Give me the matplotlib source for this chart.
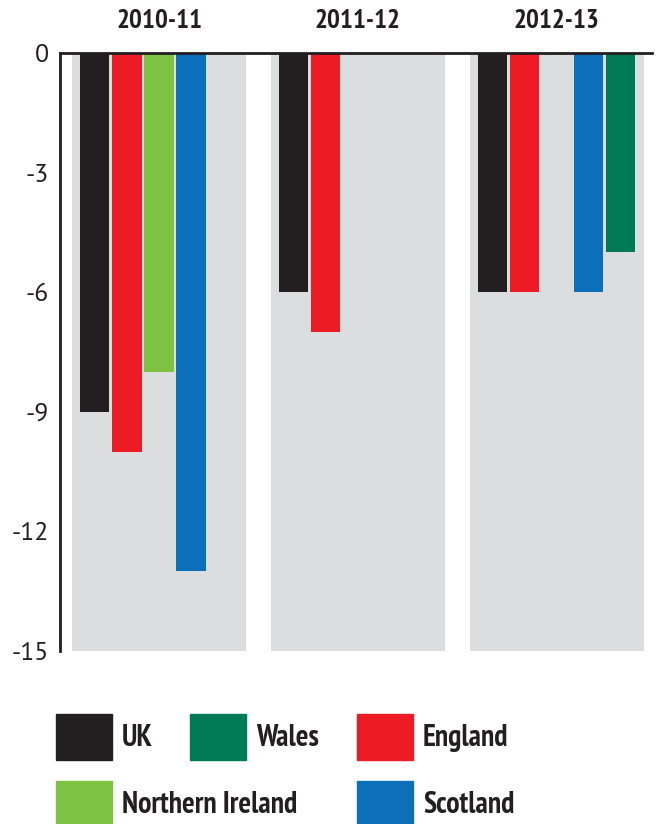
import matplotlib
matplotlib.use('Agg')
import matplotlib.pyplot as plt
from matplotlib.patches import Rectangle
import numpy as np

# ---- data ----
periods = ['2010-11', '2011-12', '2012-13']
series = ['UK', 'England', 'Northern Ireland', 'Scotland', 'Wales']
uk = [-9, -6, -6]
england = [-10, -7, -6]
northern_ireland = [-8, 0, 0]
scotland = [-13, 0, -6]
wales = [0, 0, -5]
y_ticks = [0, -3, -6, -9, -12, -15]

values = [uk, england, northern_ireland, scotland, wales]
colors = ['#231f20', '#ed1c24', '#7dc242', '#0b6fba', '#007a53']
panel_color = '#dcdddf'
dark = '#231f20'

W, H = 661, 824
fig = plt.figure(figsize=(W / 100, H / 100), dpi=100)
ax = fig.add_axes([60 / W, 1 - 651 / H, 592 / W, 598 / H])

bold = ['PT Sans Narrow', 'DejaVu Sans']
reg = ['PT Sans', 'DejaVu Sans']

x = np.arange(len(periods))
slot = 0.161
barw = 0.146
panel_w = 0.875

# grey panels
for xi in x:
    ax.bar(xi, -15, width=panel_w, bottom=0, color=panel_color, zorder=1)

for i, (vals, c) in enumerate(zip(values, colors)):
    offs = (i - 2) * slot
    ax.bar(x + offs, vals, width=barw, color=c, zorder=2)

ax.set_xlim(-0.498, 2.48)
ax.set_ylim(-15, 0)
ax.set_yticks(y_ticks)
ax.set_yticklabels([str(t) for t in y_ticks], family=reg, fontsize=18.5, color=dark)
ax.tick_params(axis='y', length=0, pad=8)
ax.set_xticks([])
for s in ['top', 'right', 'bottom']:
    ax.spines[s].set_visible(False)
ax.spines['left'].set_linewidth(2)
ax.spines['left'].set_color(dark)
ax.axhline(0, color=dark, lw=2, zorder=3, clip_on=False)

# period titles
for xi, p in zip(x, periods):
    ax.text(xi, 1.0 + 32 / 598, p, transform=ax.get_xaxis_transform(),
            ha='center', va='center', family=bold, fontweight='bold',
            fontsize=19.5, color=dark)

# legend
leg_items = [('UK', 0, 0), ('Wales', 1, 0), ('England', 2, 0),
             ('Northern Ireland', 0, 1), ('Scotland', 2, 1)]
col_x = [56, 190, 357]
row_y = [714, 781]
cmap = dict(zip(series, colors))
for name, ci, ri in leg_items:
    x0 = col_x[ci]
    y0 = row_y[ri]
    fig.patches.append(Rectangle((x0 / W, 1 - (y0 + 46) / H), 56 / W, 46 / H,
                                 transform=fig.transFigure, color=cmap[name]))
    fig.text((x0 + 66) / W, 1 - (y0 + 24) / H, name, ha='left', va='center',
             family=bold, fontweight='bold', fontsize=21.5, color=dark)

fig.savefig('out.png', dpi=100)
